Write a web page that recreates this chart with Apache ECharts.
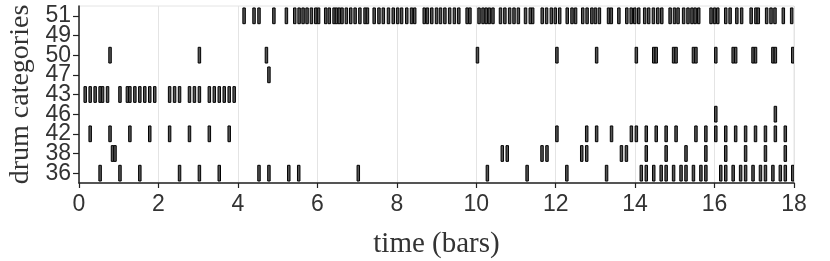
<!DOCTYPE html>
<html>
<head>
<meta charset="utf-8">
<script src="https://cdn.jsdelivr.net/npm/echarts@6/dist/echarts.min.js"></script>
<style>html,body{margin:0;padding:0;background:#fff;}#c{width:830px;height:261px;}</style>
</head>
<body>
<div id="c"></div>
<script>
const categories = ['36', '38', '42', '46', '43', '47', '50', '49', '51'];
const xTicks = [0, 2, 4, 6, 8, 10, 12, 14, 16, 18];
const noteLength = 0.0625;

const notes36 = [0.5, 1.0, 1.5, 2.5, 3.0, 3.5, 4.5, 4.75, 5.25, 5.5, 7.0, 10.25, 11.25, 12.25, 13.25,
  14.125, 14.25, 14.4375, 14.625, 14.75, 14.9375, 15.125, 15.25, 15.4375, 15.625, 15.75,
  16.125, 16.25, 16.4375, 16.625, 16.75, 16.9375, 17.125, 17.25, 17.4375, 17.625, 17.75, 17.9375];
const notes38 = [0.8125, 0.875, 10.625, 10.75, 11.625, 11.75, 12.625, 12.75, 13.625, 13.75,
  14.25, 14.75, 15.25, 15.75, 16.25, 16.75, 17.25, 17.75];
const notes42 = [0.25, 0.75, 1.25, 1.75, 2.25, 2.75, 3.25, 3.75, 12.0, 12.75, 13.0, 13.375, 13.875,
  14.0, 14.25, 14.5, 14.75, 15.0, 15.5, 15.75, 16.0, 16.25, 16.5, 16.75, 17.0, 17.25, 17.5, 17.75];
const notes46 = [16.0, 17.5];
const notes43 = [0.125, 0.25, 0.375, 0.5, 0.5625, 0.6875, 1.0, 1.1875, 1.25, 1.375, 1.5, 1.625, 1.75, 1.875,
  2.25, 2.375, 2.5, 2.75, 2.875, 3.0, 3.25, 3.375, 3.5, 3.625, 3.75, 3.875];
const notes47 = [4.75];
const notes50 = [0.75, 3.0, 4.6875, 10.0, 12.0, 13.0, 14.0, 14.4375, 14.5, 14.9375, 15.0, 15.4375, 15.5,
  16.0, 16.4375, 16.5, 16.9375, 17.0, 17.4375, 17.5, 17.9375];
const notes49 = [];
const notes51 = [4.125, 4.375, 4.5, 4.875, 5.19, 5.40, 5.51, 5.61, 5.71, 5.82, 5.93, 6.0, 6.18, 6.27, 6.39,
  6.45, 6.52, 6.59, 6.70, 6.81, 6.92, 7.04, 7.17, 7.23, 7.40, 7.52, 7.63, 7.76, 7.88, 7.99, 8.09, 8.22,
  8.34, 8.42, 8.66, 8.74, 8.85, 8.97, 9.07, 9.18, 9.30, 9.42, 9.53, 9.74, 9.81, 10.04, 10.14, 10.22,
  10.30, 10.39, 10.58, 10.69, 10.81, 10.92, 11.03, 11.21, 11.33, 11.39, 11.63, 11.74, 11.86, 11.96,
  12.07, 12.26, 12.38, 12.47, 12.65, 12.76, 12.88, 12.97, 13.07, 13.30, 13.37, 13.56, 13.76, 13.87,
  13.96, 14.06, 14.21, 14.31, 14.43, 14.54, 14.64, 14.85, 14.96, 15.05, 15.19, 15.30, 15.40, 15.48,
  15.57, 15.88, 15.97, 16.05, 16.25, 16.36, 16.53, 16.65, 16.89, 17.01, 17.07, 17.28, 17.39, 17.49,
  17.70, 17.91];

const rows = [notes36, notes38, notes42, notes46, notes43, notes47, notes50, notes49, notes51];
const data = [];
rows.forEach((arr, ci) => arr.forEach(s => data.push([s, ci])));

const chart = echarts.init(document.getElementById('c'), null, {renderer: 'canvas'});
chart.setOption({
  animation: false,
  backgroundColor: '#ffffff',
  grid: {left: 79, right: 36, top: 6, bottom: 78, show: true, borderColor: '#e4e4e4', borderWidth: 1,
    backgroundColor: 'transparent', containLabel: false, outerBoundsMode: 'none'},
  xAxis: {
    type: 'value', min: 0, max: 18, interval: 2,
    name: 'time (bars)', nameLocation: 'middle', nameGap: 47,
    nameTextStyle: {fontFamily: 'Liberation Serif', fontSize: 29, color: '#333'},
    axisLine: {show: true, onZero: false, lineStyle: {color: '#222', width: 1.5}},
    axisTick: {show: true, inside: false, length: 5, lineStyle: {color: '#222', width: 1.2}},
    axisLabel: {fontFamily: 'Liberation Sans', fontSize: 23, color: '#333', margin: 10,
      formatter: v => xTicks.includes(v) ? String(v) : ''},
    splitLine: {show: true, lineStyle: {color: '#e4e4e4', width: 1}}
  },
  yAxis: {
    type: 'category', data: categories, boundaryGap: true,
    name: 'drum categories', nameLocation: 'middle', nameGap: 43,
    nameTextStyle: {fontFamily: 'Liberation Serif', fontSize: 28, color: '#333'},
    axisLine: {show: true, lineStyle: {color: '#222', width: 1.5}},
    axisTick: {show: true, inside: false, length: 6, alignWithLabel: true, lineStyle: {color: '#222', width: 1.2}},
    axisLabel: {fontFamily: 'Liberation Sans', fontSize: 23, color: '#333', margin: 8, interval: 0},
    splitLine: {show: false}
  },
  series: [{
    type: 'custom',
    data: data,
    encode: {x: 0, y: 1},
    clip: true,
    renderItem: function (params, api) {
      const s = api.value(0), c = api.value(1);
      const p0 = api.coord([s, c]);
      const p1 = api.coord([s + noteLength, c]);
      const h = api.size([0, 1])[1] * 0.8;
      return {
        type: 'rect',
        shape: {x: p0[0], y: p0[1] - h / 2, width: Math.max(p1[0] - p0[0], 1.5), height: h},
        style: {fill: '#555555', stroke: '#000000', lineWidth: 1}
      };
    }
  }]
});
</script>
</body>
</html>
